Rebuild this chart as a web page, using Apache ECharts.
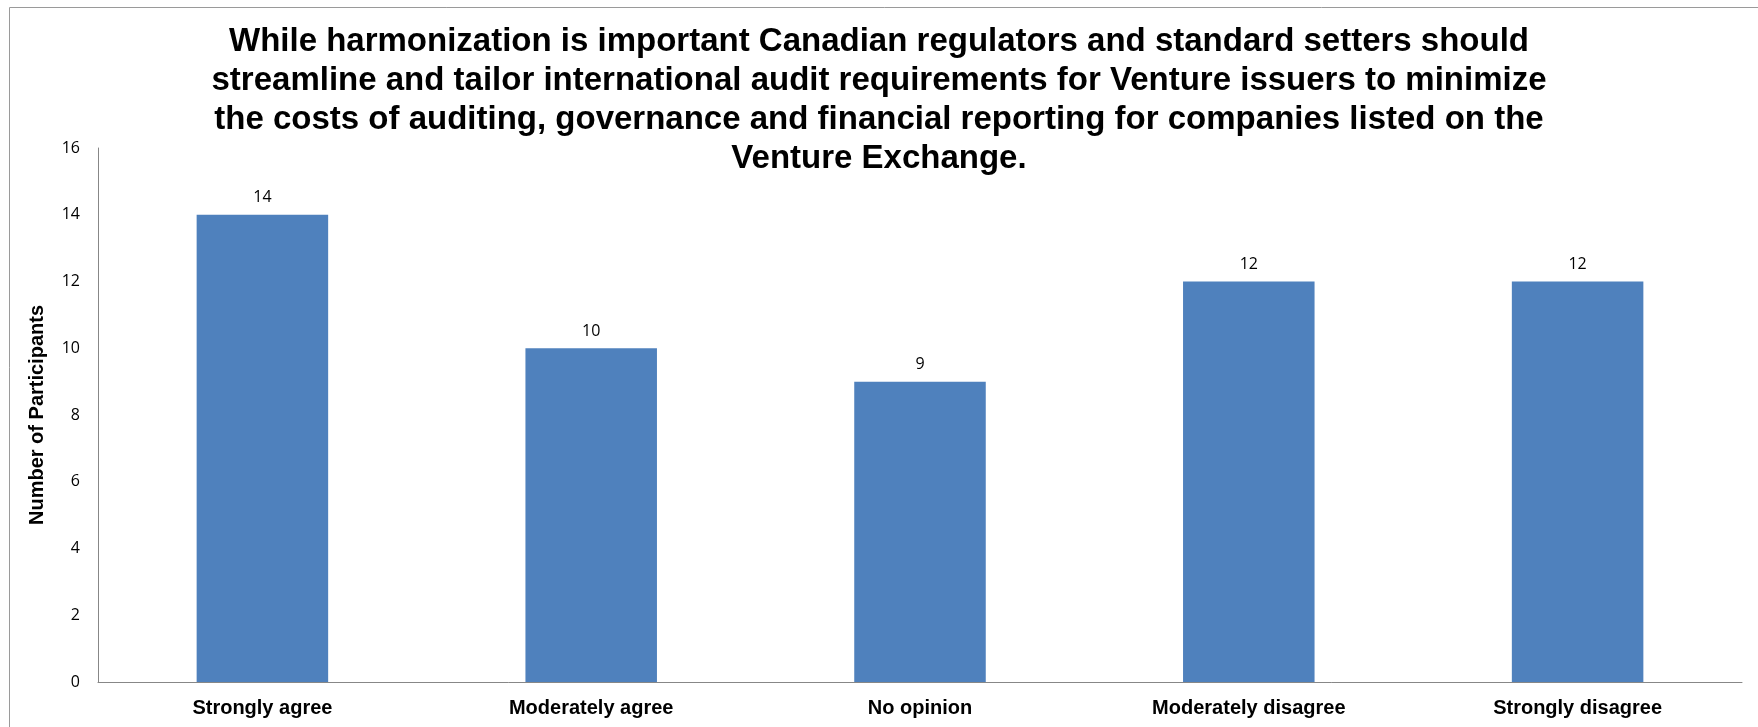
<!DOCTYPE html>
<html>
<head>
<meta charset="utf-8">
<script src="https://cdn.jsdelivr.net/npm/echarts@6/dist/echarts.min.js"></script>
<style>
html,body{margin:0;padding:0;background:#fff;}
#chart{width:1758px;height:727px;}
</style>
</head>
<body>
<div id="chart"></div>
<script>
const titleLines = [
  "While harmonization is important Canadian regulators and standard setters should",
  "streamline and tailor international audit requirements for Venture issuers to minimize",
  "the costs of auditing, governance and financial reporting for companies listed on the",
  "Venture Exchange."
];
const categories = ["Strongly agree", "Moderately agree", "No opinion", "Moderately disagree", "Strongly disagree"];
const participants = [14, 10, 9, 12, 12];
const yAxisName = "Number of Participants";

const chart = echarts.init(document.getElementById('chart'));
chart.setOption({
  animation: false,
  backgroundColor: '#ffffff',
  graphic: [{
    type: 'rect',
    shape: {x: 9.5, y: 7.5, width: 1800, height: 800},
    style: {fill: 'none', stroke: '#9a9a9a', lineWidth: 1},
    silent: true, z: -1
  }],
  title: {
    text: titleLines.join('\n'),
    left: 'center',
    top: 17,
    textStyle: {
      fontFamily: 'Liberation Sans, Arial, sans-serif',
      fontWeight: 'bold',
      fontSize: 33,
      lineHeight: 39,
      color: '#000'
    }
  },
  grid: {left: 98, right: 16, top: 148, bottom: 45, containLabel: false},
  xAxis: {
    type: 'category',
    data: categories,
    axisLine: {lineStyle: {color: '#878787', width: 1}},
    axisTick: {show: false},
    axisLabel: {
      margin: 16,
      fontFamily: 'Liberation Sans, Arial, sans-serif',
      fontWeight: 'bold',
      fontSize: 20,
      color: '#000'
    }
  },
  yAxis: {
    type: 'value',
    min: 0, max: 16, interval: 2,
    name: yAxisName,
    nameLocation: 'middle',
    nameGap: 51,
    nameRotate: 90,
    nameTextStyle: {
      fontFamily: 'Liberation Sans, Arial, sans-serif',
      fontWeight: 'bold',
      fontSize: 20,
      color: '#000'
    },
    axisLine: {show: true, lineStyle: {color: '#878787', width: 1}},
    axisTick: {show: false},
    splitLine: {show: false},
    axisLabel: {
      margin: 18,
      fontFamily: 'Open Sans, Noto Sans, sans-serif',
      fontSize: 16,
      color: '#000'
    }
  },
  series: [{
    type: 'bar',
    data: participants,
    barCategoryGap: '60%',
    itemStyle: {color: '#4F81BD'},
    label: {
      show: true,
      position: 'top',
      distance: 9,
      fontFamily: 'Open Sans, Noto Sans, sans-serif',
      fontSize: 16,
      color: '#000'
    }
  }]
});
</script>
</body>
</html>
